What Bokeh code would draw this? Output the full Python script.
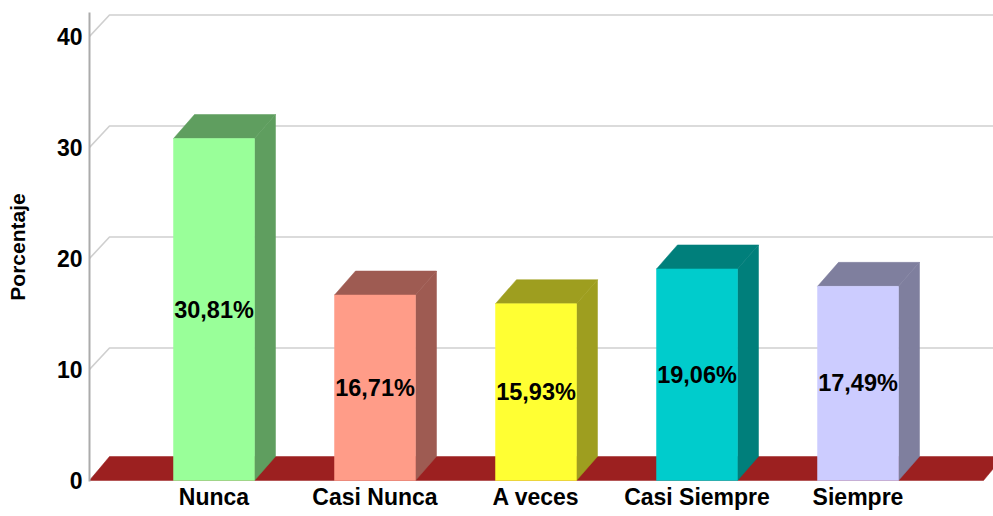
from bokeh.plotting import figure
from bokeh.models import Range1d, FixedTicker, ColumnDataSource
from bokeh.core.properties import value
from bokeh.embed import file_html
from bokeh.resources import INLINE

# ---- data ----
categories = ["Nunca", "Casi Nunca", "A veces", "Casi Siempre", "Siempre"]
percentages = [30.81, 16.71, 15.93, 19.06, 17.49]
labels = ["30,81%", "16,71%", "15,93%", "19,06%", "17,49%"]
front_colors = ["#99FF99", "#FF9C88", "#FFFF33", "#00CCCC", "#CCCCFF"]
side_colors = ["#5F9E5F", "#9E5B52", "#9E9E1F", "#007F7B", "#7F7F9E"]
y_ticks = [0, 10, 20, 30, 40]
floor_color = "#9C2020"

# ---- geometry (pixel -> data conversions) ----
PX_X = 161.0          # pixels per category
PX_Y = 11.1           # pixels per percent
W, H = 993, 516
BL, BR, BT, BB = 89, 0, 12, 35
frame_w = W - BL - BR
frame_h = H - BT - BB

x_pos = list(range(1, len(categories) + 1))
x0 = 1 - (213.5 - BL) / PX_X
x1 = x0 + frame_w / PX_X
y_start = -1 / PX_Y
y_end = y_start + frame_h / PX_Y

hw = 40.5 / PX_X           # half bar width
bdx, bdy = 21 / PX_X, 24 / PX_Y   # bar depth
gdx, gdy = 20 / PX_X, 21.5 / PX_Y # wall / grid depth
fdx, fdy = 20 / PX_X, 24 / PX_Y   # floor depth
floor_len = (983 - BL) / PX_X

p = figure(width=W, height=H, output_backend="svg", toolbar_location=None,
           x_range=Range1d(x0, x1), y_range=Range1d(y_start, y_end),
           min_border_left=BL, min_border_right=BR, min_border_top=BT,
           min_border_bottom=BB)
p.outline_line_color = None
p.xgrid.visible = False
p.ygrid.visible = False
p.background_fill_color = "white"

# gridlines on side wall + back wall
gx = [[x0, x0 + gdx, x1 + 1] for _ in y_ticks]
gy = [[v, v + gdy, v + gdy] for v in y_ticks]
p.multi_line(gx, gy, line_color="#CFCFCF", line_width=1.6)

# floor
p.patch([x0, x0 + floor_len, x0 + floor_len + fdx, x0 + fdx], [0, 0, fdy, fdy],
        fill_color=floor_color, line_color=floor_color, line_width=0.5)

# bars
side_xs, side_ys, top_xs, top_ys = [], [], [], []
for x, v in zip(x_pos, percentages):
    side_xs.append([x + hw, x + hw + bdx, x + hw + bdx, x + hw])
    side_ys.append([0, bdy, v + bdy, v])
    top_xs.append([x - hw, x - hw + bdx, x + hw + bdx, x + hw])
    top_ys.append([v, v + bdy, v + bdy, v])
p.patches(side_xs, side_ys, fill_color=side_colors, line_color=side_colors, line_width=0.5)
p.patches(top_xs, top_ys, fill_color=side_colors, line_color=side_colors, line_width=0.5)
p.quad(left=[x - hw for x in x_pos], right=[x + hw for x in x_pos],
       bottom=[0] * len(x_pos), top=percentages,
       fill_color=front_colors, line_color=front_colors, line_width=0.5)

# value labels
src = ColumnDataSource(dict(x=x_pos, y=[v / 2 for v in percentages], t=labels))
p.text(x="x", y="y", text="t", source=src, text_align="center", text_baseline="middle",
       text_font=value("Liberation Sans"), text_font_style="bold",
       text_font_size="23.5px", text_color="black")

# axes
p.xaxis.ticker = FixedTicker(ticks=x_pos)
p.xaxis.major_label_overrides = {x: c for x, c in zip(x_pos, categories)}
p.xaxis.axis_line_color = None
p.xaxis.major_tick_line_color = None
p.xaxis.minor_tick_line_color = None
p.xaxis.major_label_standoff = -4
p.xaxis.major_label_text_font = "Liberation Sans"
p.xaxis.major_label_text_font_style = "bold"
p.xaxis.major_label_text_font_size = "23px"
p.xaxis.major_label_text_color = "black"

p.yaxis.ticker = FixedTicker(ticks=y_ticks)
p.yaxis.axis_line_color = "#ABABAB"
p.yaxis.axis_line_width = 2
p.yaxis.major_tick_line_color = None
p.yaxis.minor_tick_line_color = None
p.yaxis.major_label_standoff = 1
p.yaxis.major_label_text_font = "Liberation Sans"
p.yaxis.major_label_text_font_style = "bold"
p.yaxis.major_label_text_font_size = "23px"
p.yaxis.major_label_text_color = "black"
p.yaxis.axis_label = "Porcentaje"
p.yaxis.axis_label_text_font = "Liberation Sans"
p.yaxis.axis_label_text_font_style = "bold"
p.yaxis.axis_label_text_font_size = "21px"
p.yaxis.axis_label_text_color = "black"
p.yaxis.axis_label_standoff = 25

open("out.html", "w").write(file_html(p, INLINE))
